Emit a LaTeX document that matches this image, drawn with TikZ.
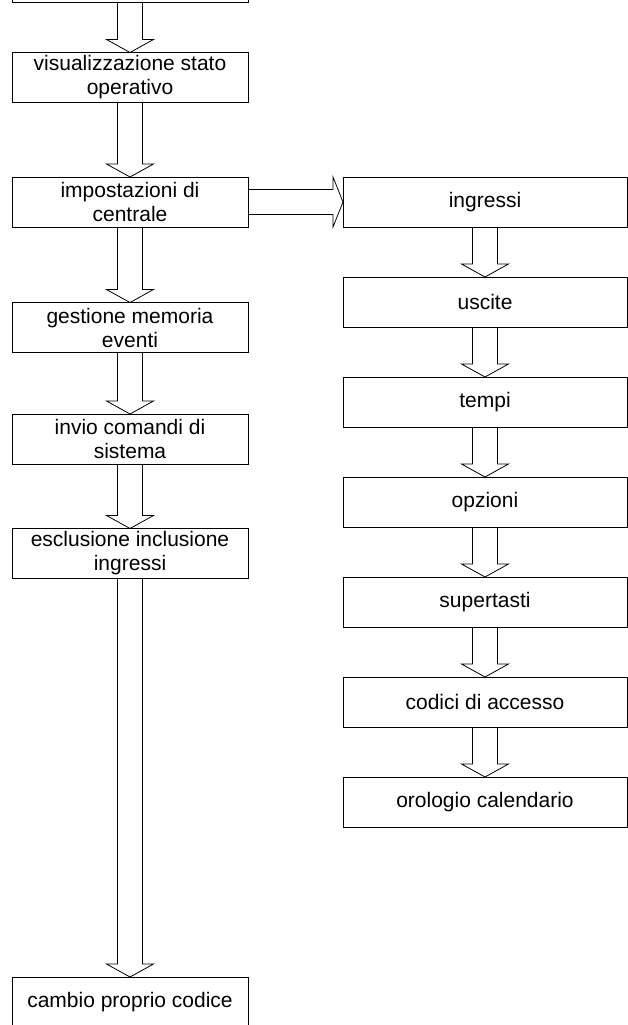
\documentclass[tikz,border=0pt]{standalone}
\usepackage{fontspec}
\setmainfont{Liberation Sans}
\usetikzlibrary{calc}

% hollow block arrow, from the bottom of one box to the top of the next
\newcommand{\downblock}[2]{%
\draw ($(#1.south)+(-12.5,0)$) -- ($(#2.north)+(-12.5,13)$) -- ($(#2.north)+(-23.5,13)$)
  -- (#2.north) -- ($(#2.north)+(23.5,13)$) -- ($(#2.north)+(12.5,13)$) -- ($(#1.south)+(12.5,0)$);}

\begin{document}
\begin{tikzpicture}[x=1pt, y=1pt, line width=0.8pt, line join=miter,
  font=\fontsize{21}{24}\selectfont,
  leftbox/.style={draw, minimum width=236pt, minimum height=50pt, inner sep=0pt, outer sep=0pt, align=center},
  rightbox/.style={draw, minimum width=284pt, minimum height=50pt, inner sep=0pt, outer sep=0pt}]
\useasboundingbox (0,0) rectangle (628,-1025);

% left column
\node[leftbox] (menu) at (130,23) {};
\node[leftbox] (visual) at (130,-77.5) {visualizzazione stato\\operativo};
\node[leftbox] (impost) at (130,-202) {impostazioni di\\centrale};
\node[leftbox] (memoria) at (130,-327.5) {gestione memoria\\eventi};
\node[leftbox] (comandi) at (130,-439) {invio comandi di\\sistema};
\node[leftbox] (esclus) at (130,-553.5) {esclusione inclusione\\ingressi};
\node[leftbox] (cambio) at (130,-1002) {cambio proprio codice};

\foreach \a/\b in {menu/visual, visual/impost, impost/memoria, memoria/comandi, comandi/esclus, esclus/cambio}
\downblock{\a}{\b};

% right column
\foreach \name/\txt [count=\i from 0] in {ingressi/ingressi, uscite/uscite, tempi/tempi, opzioni/opzioni,
  supertasti/supertasti, codici/codici di accesso, orologio/orologio calendario}
\node[rightbox] (\name) at (485,-202-100*\i) {\txt};

\foreach \a/\b in {ingressi/uscite, uscite/tempi, tempi/opzioni, opzioni/supertasti, supertasti/codici, codici/orologio}
\downblock{\a}{\b};

\draw ($(impost.east)+(0,12.5)$) -- ($(ingressi.west)+(-10,12.5)$) -- ($(ingressi.west)+(-10,25)$)
  -- (ingressi.west) -- ($(ingressi.west)+(-10,-25)$) -- ($(ingressi.west)+(-10,-12.5)$) -- ($(impost.east)+(0,-12.5)$);
\end{tikzpicture}
\end{document}
